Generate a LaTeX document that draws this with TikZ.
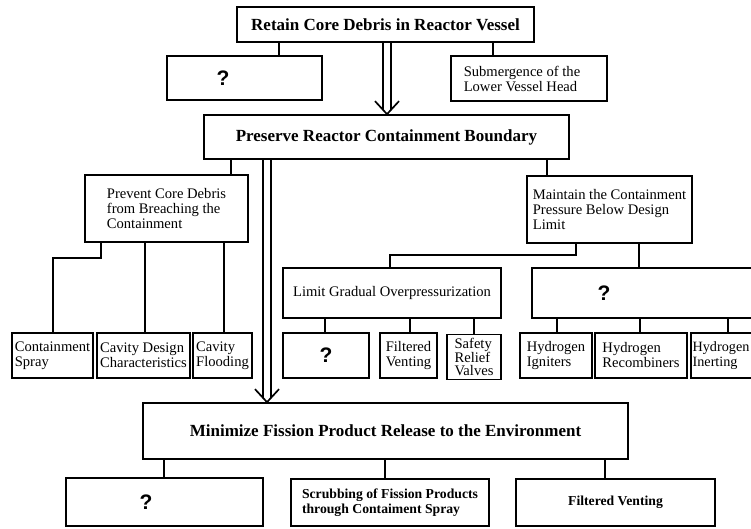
\documentclass[tikz,border=0pt]{standalone}
\usepackage{fontspec}
\setmainfont{Liberation Serif}
\newfontfamily\qfont{Liberation Sans}
\usetikzlibrary{calc}
\tikzset{
  x=1pt, y=-1pt,
  box/.style={draw, line width=1.7pt, inner sep=0pt, align=left},
  conn/.style={line width=1.7pt},
  bigtxt/.style={font=\fontsize{17}{20}\selectfont\bfseries},
  regtxt/.style={font=\fontsize{14.6}{15}\selectfont},
  smbtxt/.style={font=\fontsize{13.7}{14.5}\selectfont\bfseries},
  qtxt/.style={font=\qfont\bfseries\fontsize{21}{24}\selectfont},
}
\newcommand\dblarrow[3]{%
  \draw[conn] (#2 -| #1-4,0) -- ($(#3 -| #1-4,0)+(0,-4.3)$);
  \draw[conn] (#2 -| #1+4,0) -- ($(#3 -| #1+4,0)+(0,-4.3)$);
  \draw[conn, line join=miter] ($(#3 -| #1,0)+(-12,-13)$) -- (#3 -| #1,0) -- ($(#3 -| #1,0)+(12,-13)$);
}
\begin{document}
\begin{tikzpicture}
\useasboundingbox (0,0) rectangle (751,529);
\clip (0,0) rectangle (751,529);
\fill[white] (0,0) rectangle (751,529);

% level 1
\node[box, bigtxt, minimum width=297pt, minimum height=35pt] (top) at (385.5,24.5) {Retain Core Debris in Reactor Vessel};
\node[box, minimum width=155pt, minimum height=44pt, label={[qtxt, xshift=-21.5pt]center:?}] (q1) at (244.5,78) {};
\node[box, minimum width=156pt, minimum height=45pt, label={[regtxt, align=left, xshift=-7pt]center:Submergence of the\\Lower Vessel Head}] (sub) at (529,78.5) {};

% level 2
\node[box, bigtxt, minimum width=365pt, minimum height=44pt] (pres) at (386.5,137) {Preserve Reactor Containment Boundary};
\node[box, regtxt, minimum width=163pt, minimum height=67pt] (prev) at (166.5,208.5) {Prevent Core Debris\\from Breaching the\\Containment};
\node[box, regtxt, minimum width=165pt, minimum height=67pt] (maint) at (609.5,209.5) {Maintain the Containment\\Pressure Below Design\\Limit};

\node[box, regtxt, minimum width=218pt, minimum height=50pt] (limit) at (392,293) {Limit Gradual Overpressurization};
\node[box, minimum width=228pt, minimum height=50pt, label={[qtxt, xshift=-42pt]center:?}] (qbig) at (646,293) {};

% leaves
\node[box, regtxt, minimum width=81pt, minimum height=45pt] (cspray) at (52.5,355.5) {Containment\\Spray};
\node[box, regtxt, minimum width=93pt, minimum height=45pt] (cdesign) at (143.5,355.5) {Cavity Design\\Characteristics};
\node[box, regtxt, minimum width=59pt, minimum height=45pt] (cflood) at (222.5,355.5) {Cavity\\Flooding};

\node[box, qtxt, minimum width=86pt, minimum height=45pt] (q2) at (326,355.5) {?};
\node[box, regtxt, minimum width=57pt, minimum height=45pt] (fvent) at (408.5,355.5) {Filtered\\Venting};
\node[box, font=\fontsize{14.6}{13.8}\selectfont, minimum width=54pt, minimum height=45pt] (srv) at (474,357) {Safety\\Relief\\Valves};

\node[box, regtxt, minimum width=72pt, minimum height=45pt] (higni) at (556,355.5) {Hydrogen\\Igniters};
\node[box, regtxt, minimum width=92pt, minimum height=45pt] (hrecomb) at (641,355.5) {Hydrogen\\Recombiners};
\node[box, minimum width=74pt, minimum height=45pt, label={[font=\fontsize{14.2}{15}\selectfont, align=left, xshift=-7pt]center:Hydrogen\\Inerting}] (hinert) at (728,355.5) {};

% level 3
\node[box, bigtxt, minimum width=485pt, minimum height=56pt] (mini) at (385.5,431) {Minimize Fission Product Release to the Environment};
\node[box, minimum width=197pt, minimum height=48pt, label={[qtxt, xshift=-18.5pt]center:?}] (q3) at (164.5,502) {};
\node[box, smbtxt, minimum width=198pt, minimum height=47pt] (scrub) at (390,502.5) {Scrubbing of Fission Products\\through Contaiment Spray};
\node[box, smbtxt, minimum width=199pt, minimum height=47pt] (fvent2) at (615.5,502.5) {Filtered Venting};

% connectors
\draw[conn] (top.south -| 279,0) -- (q1.north -| 279,0);
\draw[conn] (top.south -| 493,0) -- (sub.north -| 493,0);
\dblarrow{387}{top.south}{pres.north}

\draw[conn] (pres.south -| 231,0) -- (prev.north -| 231,0);
\draw[conn] (pres.south -| 547,0) -- (maint.north -| 547,0);
\dblarrow{267}{pres.south}{mini.north}

\draw[conn] (prev.south -| 101,0) -- (101,258) -- (53,258) -- (cspray.north -| 53,0);
\draw[conn] (prev.south -| 145,0) -- (cdesign.north -| 145,0);
\draw[conn] (prev.south -| 224,0) -- (cflood.north -| 224,0);

\draw[conn] (maint.south -| 576,0) -- (576,255) -- (390,255) -- (limit.north -| 390,0);
\draw[conn] (maint.south -| 639,0) -- (qbig.north -| 639,0);

\draw[conn] (limit.south -| 325,0) -- (q2.north -| 325,0);
\draw[conn] (limit.south -| 410,0) -- (fvent.north -| 410,0);
\draw[conn] (limit.south -| 474,0) -- (srv.north -| 474,0);

\draw[conn] (qbig.south -| 557,0) -- (higni.north -| 557,0);
\draw[conn] (qbig.south -| 640,0) -- (hrecomb.north -| 640,0);
\draw[conn] (qbig.south -| 728,0) -- (hinert.north -| 728,0);

\draw[conn] (mini.south -| 164,0) -- (q3.north -| 164,0);
\draw[conn] (mini.south -| 385,0) -- (scrub.north -| 385,0);
\draw[conn] (mini.south -| 605,0) -- (fvent2.north -| 605,0);
\end{tikzpicture}
\end{document}
